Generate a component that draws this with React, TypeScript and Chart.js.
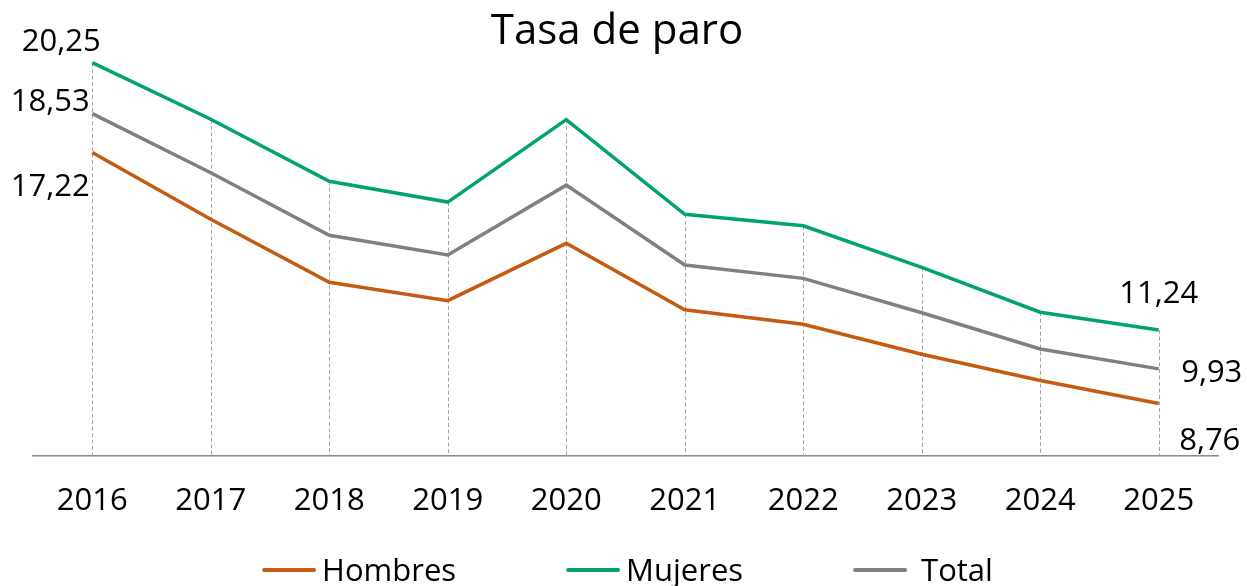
import React, { useEffect, useRef } from "react";
import { Chart, registerables } from "chart.js";

Chart.register(...registerables);

const years = ["2016", "2017", "2018", "2019", "2020", "2021", "2022", "2023", "2024", "2025"];
const hombres = [17.22, 14.97, 12.85, 12.23, 14.16, 11.92, 11.43, 10.42, 9.54, 8.76];
const mujeres = [20.25, 18.34, 16.25, 15.55, 18.33, 15.14, 14.75, 13.35, 11.84, 11.24];
const total = [18.53, 16.54, 14.43, 13.77, 16.12, 13.43, 12.98, 11.82, 10.6, 9.93];
const seriesLabels = ["Hombres", "Mujeres", "Total"];
const seriesColors = ["#C55A11", "#03A275", "#808080"];
const titleText = "Tasa de paro";

const FONT = "'Open Sans', 'Noto Sans', sans-serif";

const dropLines = {
  id: "dropLines",
  beforeDatasetsDraw(chart: any) {
    const { ctx, chartArea } = chart;
    const metas = chart.data.datasets.map((_: any, i: number) => chart.getDatasetMeta(i));
    const n = chart.data.labels.length;
    ctx.save();
    ctx.strokeStyle = "#a3a3a3";
    ctx.lineWidth = 1;
    ctx.setLineDash([4, 2.5]);
    for (let i = 0; i < n; i++) {
      let top = Infinity;
      let x = 0;
      metas.forEach((m: any) => {
        const el = m.data[i];
        if (el && el.y < top) {
          top = el.y;
          x = el.x;
        }
      });
      const px = Math.round(x) + 0.5;
      ctx.beginPath();
      ctx.moveTo(px, top);
      ctx.lineTo(px, chartArea.bottom);
      ctx.stroke();
    }
    ctx.restore();
  },
};

const endLabels = {
  id: "endLabels",
  afterDatasetsDraw(chart: any, _args: any, opts: any) {
    const { ctx } = chart;
    const size = opts.size || 31;
    ctx.save();
    ctx.font = `${size}px ${FONT}`;
    ctx.fillStyle = "#000";
    ctx.textAlign = "center";
    ctx.textBaseline = "alphabetic";
    chart.data.datasets.forEach((ds: any, di: number) => {
      const meta = chart.getDatasetMeta(di);
      const off = opts.offsets[di];
      const last = ds.data.length - 1;
      [[0, off.first], [last, off.last]].forEach(([idx, o]: any) => {
        const el = meta.data[idx];
        if (!el) return;
        const txt = Number(ds.data[idx]).toFixed(2).replace(".", ",");
        ctx.fillText(txt, el.x + o[0], el.y + o[1] + 0.357 * size);
      });
    });
    ctx.restore();
  },
};

const titlePlugin = {
  id: "titleText",
  afterDraw(chart: any, _args: any, opts: any) {
    const { ctx, chartArea } = chart;
    ctx.save();
    ctx.font = `${opts.size}px ${FONT}`;
    ctx.fillStyle = "#000";
    ctx.textAlign = "center";
    ctx.textBaseline = "alphabetic";
    ctx.fillText(opts.text, (chartArea.left + chartArea.right) / 2 + opts.shift, opts.baseline);
    ctx.restore();
  },
};

const bottomLegend = {
  id: "bottomLegend",
  afterDraw(chart: any, _args: any, opts: any) {
    const { ctx, chartArea } = chart;
    const size = opts.size || 31;
    const lineLen = 54;
    const itemGap = 110;
    ctx.save();
    ctx.font = `${size}px ${FONT}`;
    const items = chart.data.datasets.map((ds: any, i: number) => ({
      text: ds.label,
      color: ds.borderColor,
      w: ctx.measureText(ds.label).width,
      gap: opts.gaps[i],
    }));
    const totalW =
      items.reduce((s: number, it: any) => s + lineLen + it.gap + it.w, 0) + itemGap * (items.length - 1);
    let x = (chartArea.left + chartArea.right) / 2 - totalW / 2 + opts.shift;
    const baseline = opts.baseline;
    const lineY = baseline - 0.357 * size;
    items.forEach((it: any) => {
      ctx.strokeStyle = it.color;
      ctx.lineWidth = 4;
      ctx.lineCap = "round";
      ctx.beginPath();
      ctx.moveTo(x + 2, lineY);
      ctx.lineTo(x + lineLen - 2, lineY);
      ctx.stroke();
      ctx.fillStyle = "#000";
      ctx.textAlign = "left";
      ctx.textBaseline = "alphabetic";
      ctx.fillText(it.text, x + lineLen + it.gap, baseline);
      x += lineLen + it.gap + it.w + itemGap;
    });
    ctx.restore();
  },
};

export default function App() {
  const ref = useRef<HTMLCanvasElement | null>(null);
  useEffect(() => {
    if (!ref.current) return;
    const seriesData = [hombres, mujeres, total];
    const chart = new Chart(ref.current, {
      type: "line",
      data: {
        labels: years,
        datasets: seriesLabels.map((label, i) => ({
          label,
          data: seriesData[i],
          borderColor: seriesColors[i],
          backgroundColor: seriesColors[i],
          borderWidth: 3.5,
          pointRadius: 0,
          pointHoverRadius: 0,
          tension: 0,
          fill: false,
          borderJoinStyle: "miter",
        })),
      },
      options: {
        responsive: false,
        animation: false,
        devicePixelRatio: 1,
        layout: { padding: { left: 33, right: 29, top: 55.2, bottom: 39 } },
        scales: {
          x: {
            type: "category",
            offset: true,
            grid: { display: false, drawTicks: false },
            border: { display: true, color: "#8c8c8c", width: 1.5 },
            ticks: { font: { family: FONT, size: 31 }, color: "#000", padding: 27, maxRotation: 0 },
          },
          y: { display: false, min: 7, max: 20.5 },
        },
        plugins: {
          legend: { display: false },
          tooltip: { enabled: false },
          title: { display: false },
          titleText: { text: titleText, size: 42, baseline: 43.5, shift: -8.5 },
          endLabels: {
            size: 31,
            offsets: [
              { first: [-42, 32], last: [51, 35] },
              { first: [-31, -23], last: [0, -38] },
              { first: [-42, -14], last: [53, 2] },
            ],
          },
          bottomLegend: { size: 31, baseline: 581, shift: 2, gaps: [6, 6, 14] },
        } as any,
      },
      plugins: [dropLines, endLabels, titlePlugin, bottomLegend],
    });
    return () => chart.destroy();
  }, []);
  return (
    <div style={{ position: "fixed", left: 0, top: 0, width: 1247, height: 586, background: "#fff" }}>
      <canvas ref={ref} width={1247} height={586} style={{ display: "block" }} />
    </div>
  );
}
